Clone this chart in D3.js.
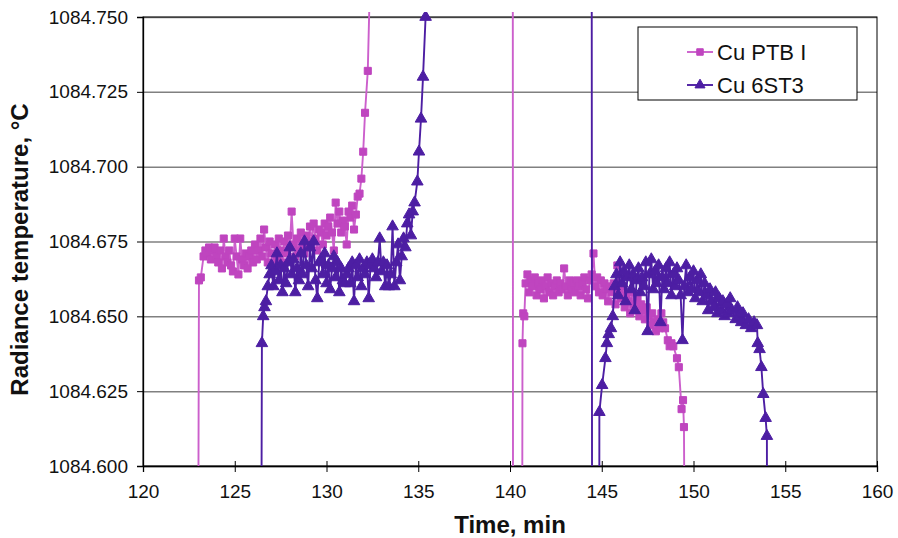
<!DOCTYPE html>
<html>
<head>
<meta charset="utf-8">
<script src="https://cdn.jsdelivr.net/npm/d3@7"></script>
<style>
  body { margin: 0; background: #fff; }
  text { font-family: Arial, "Liberation Sans", sans-serif; }
</style>
</head>
<body>
<script>
// series: [time (min), radiance temperature (°C)]
// values outside 1084.600..1084.750 are the off-scale transitions (clipped)
var ptbData = [
  [122.98,1084.500],[123.05,1084.662],[123.15,1084.663],[123.3,1084.670],[123.4,1084.672],[123.5,1084.671],
  [123.6,1084.673],[123.7,1084.669],[123.8,1084.672],[123.9,1084.673],[124.0,1084.670],[124.1,1084.668],
  [124.2,1084.672],[124.3,1084.666],[124.4,1084.676],[124.5,1084.670],[124.6,1084.668],[124.7,1084.672],
  [124.8,1084.667],[124.9,1084.665],[125.0,1084.676],[125.1,1084.670],[125.2,1084.664],[125.3,1084.676],
  [125.4,1084.669],[125.5,1084.667],[125.6,1084.671],[125.7,1084.666],[125.8,1084.670],[125.9,1084.672],
  [126.0,1084.668],[126.1,1084.674],[126.2,1084.669],[126.3,1084.672],[126.4,1084.676],[126.5,1084.670],
  [126.6,1084.679],[126.7,1084.673],[126.8,1084.668],[126.9,1084.675],[127.0,1084.671],[127.1,1084.666],
  [127.2,1084.674],[127.3,1084.669],[127.4,1084.676],[127.5,1084.672],[127.6,1084.668],[127.7,1084.675],
  [127.8,1084.671],[127.9,1084.677],[128.0,1084.673],[128.1,1084.685],[128.2,1084.674],[128.3,1084.670],
  [128.4,1084.676],[128.5,1084.672],[128.6,1084.678],[128.7,1084.674],[128.8,1084.671],[128.9,1084.677],
  [129.0,1084.673],[129.1,1084.680],[129.2,1084.675],[129.3,1084.681],[129.4,1084.676],[129.5,1084.672],
  [129.6,1084.679],[129.7,1084.678],[129.8,1084.674],[129.9,1084.681],[130.0,1084.677],[130.1,1084.680],
  [130.2,1084.683],[130.3,1084.678],[130.4,1084.672],[130.5,1084.688],[130.6,1084.681],[130.7,1084.685],
  [130.8,1084.678],[130.9,1084.682],[131.0,1084.680],[131.1,1084.674],[131.2,1084.685],[131.3,1084.683],
  [131.4,1084.687],[131.5,1084.679],[131.6,1084.684],[131.7,1084.690],[131.8,1084.691],[131.9,1084.696],
  [132.0,1084.705],[132.1,1084.718],[132.25,1084.732],[132.4,1084.770],
  [140.15,1084.800],[140.17,1084.500],[140.65,1084.500],[140.68,1084.641],[140.72,1084.651],[140.78,1084.650],
  [140.85,1084.661],[140.95,1084.664],[141.05,1084.658],[141.15,1084.662],[141.25,1084.660],[141.35,1084.663],
  [141.45,1084.657],[141.55,1084.661],[141.65,1084.659],[141.75,1084.662],[141.85,1084.656],[141.95,1084.660],
  [142.05,1084.663],[142.15,1084.658],[142.25,1084.661],[142.35,1084.657],[142.45,1084.660],[142.55,1084.662],
  [142.65,1084.658],[142.75,1084.661],[142.85,1084.659],[142.95,1084.666],[143.05,1084.660],[143.15,1084.657],
  [143.25,1084.662],[143.35,1084.659],[143.45,1084.661],[143.55,1084.658],[143.65,1084.662],[143.75,1084.660],
  [143.85,1084.657],[143.95,1084.661],[144.05,1084.663],[144.15,1084.659],[144.25,1084.656],[144.35,1084.662],
  [144.45,1084.664],[144.55,1084.671],[144.65,1084.660],[144.75,1084.663],[144.85,1084.658],[144.95,1084.662],
  [145.05,1084.657],[145.15,1084.661],[145.25,1084.659],[145.35,1084.655],[145.45,1084.660],[145.55,1084.658],
  [145.65,1084.661],[145.75,1084.654],[145.85,1084.667],[145.95,1084.659],[146.05,1084.656],[146.15,1084.660],
  [146.25,1084.653],[146.35,1084.657],[146.45,1084.655],[146.55,1084.651],[146.65,1084.658],[146.75,1084.654],
  [146.85,1084.652],[146.95,1084.656],[147.05,1084.650],[147.15,1084.654],[147.25,1084.652],[147.35,1084.649],
  [147.45,1084.653],[147.55,1084.650],[147.65,1084.647],[147.75,1084.651],[147.85,1084.648],[147.95,1084.645],
  [148.05,1084.649],[148.15,1084.646],[148.25,1084.651],[148.35,1084.648],[148.45,1084.646],[148.6,1084.642],
  [148.7,1084.640],[148.8,1084.641],[148.9,1084.640],[149.1,1084.636],[149.2,1084.633],[149.35,1084.619],
  [149.43,1084.622],[149.48,1084.613],[149.58,1084.500]
];

var st3Data = [
  [126.42,1084.500],[126.48,1084.641],[126.55,1084.650],[126.62,1084.653],[126.7,1084.655],[126.8,1084.660],
  [126.9,1084.664],[127.0,1084.667],[127.1,1084.660],[127.2,1084.665],[127.3,1084.671],[127.4,1084.662],
  [127.5,1084.667],[127.6,1084.658],[127.7,1084.666],[127.8,1084.661],[127.9,1084.668],[128.0,1084.673],
  [128.1,1084.664],[128.2,1084.669],[128.3,1084.658],[128.4,1084.666],[128.5,1084.662],[128.6,1084.671],
  [128.7,1084.664],[128.8,1084.675],[128.9,1084.667],[129.0,1084.660],[129.1,1084.673],[129.2,1084.666],
  [129.3,1084.675],[129.4,1084.662],[129.5,1084.656],[129.6,1084.668],[129.7,1084.669],[129.8,1084.664],
  [129.9,1084.671],[130.0,1084.661],[130.1,1084.667],[130.2,1084.659],[130.3,1084.666],[130.4,1084.670],
  [130.5,1084.663],[130.6,1084.668],[130.7,1084.658],[130.8,1084.666],[130.9,1084.662],[131.0,1084.661],
  [131.1,1084.664],[131.2,1084.666],[131.3,1084.661],[131.4,1084.668],[131.5,1084.655],[131.6,1084.667],
  [131.7,1084.663],[131.8,1084.669],[131.9,1084.660],[132.0,1084.666],[132.1,1084.664],[132.2,1084.668],
  [132.3,1084.656],[132.4,1084.667],[132.5,1084.669],[132.6,1084.666],[132.7,1084.663],[132.8,1084.668],
  [132.9,1084.676],[133.0,1084.665],[133.1,1084.668],[133.2,1084.660],[133.3,1084.667],[133.4,1084.660],
  [133.5,1084.664],[133.6,1084.680],[133.7,1084.660],[133.8,1084.668],[133.9,1084.674],[134.0,1084.662],
  [134.1,1084.670],[134.2,1084.676],[134.3,1084.673],[134.4,1084.681],[134.5,1084.684],[134.6,1084.677],
  [134.7,1084.685],[134.8,1084.688],[134.95,1084.695],[135.04,1084.705],[135.15,1084.716],[135.26,1084.730],
  [135.4,1084.750],[135.5,1084.780],
  [144.45,1084.800],[144.48,1084.500],[144.86,1084.500],[144.87,1084.618],[145.02,1084.627],[145.2,1084.636],
  [145.28,1084.641],[145.38,1084.644],[145.5,1084.646],[145.6,1084.650],[145.7,1084.660],[145.8,1084.664],
  [145.9,1084.657],[146.0,1084.668],[146.1,1084.661],[146.2,1084.665],[146.3,1084.655],[146.4,1084.663],
  [146.5,1084.667],[146.6,1084.659],[146.7,1084.664],[146.8,1084.652],[146.9,1084.662],[147.0,1084.666],
  [147.1,1084.658],[147.2,1084.663],[147.3,1084.660],[147.4,1084.668],[147.5,1084.645],[147.6,1084.664],
  [147.7,1084.669],[147.8,1084.659],[147.9,1084.665],[148.0,1084.661],[148.1,1084.667],[148.2,1084.648],
  [148.3,1084.663],[148.4,1084.659],[148.5,1084.666],[148.6,1084.661],[148.7,1084.668],[148.8,1084.657],
  [148.9,1084.664],[149.0,1084.660],[149.1,1084.666],[149.2,1084.662],[149.3,1084.657],[149.4,1084.642],
  [149.5,1084.660],[149.6,1084.667],[149.7,1084.658],[149.8,1084.663],[149.9,1084.659],[150.0,1084.665],
  [150.1,1084.656],[150.2,1084.662],[150.3,1084.658],[150.4,1084.664],[150.5,1084.655],[150.6,1084.661],
  [150.7,1084.657],[150.8,1084.652],[150.9,1084.659],[151.0,1084.655],[151.1,1084.653],[151.2,1084.658],
  [151.3,1084.651],[151.4,1084.656],[151.5,1084.652],[151.6,1084.655],[151.7,1084.650],[151.8,1084.654],
  [151.9,1084.651],[152.0,1084.656],[152.1,1084.652],[152.3,1084.649],[152.4,1084.653],[152.5,1084.650],
  [152.6,1084.648],[152.7,1084.651],[152.85,1084.647],[153.0,1084.649],[153.15,1084.646],[153.3,1084.648],
  [153.46,1084.647],[153.5,1084.641],[153.6,1084.639],[153.7,1084.633],[153.8,1084.624],[153.93,1084.616],
  [154.0,1084.610],[154.02,1084.500]
];

var seriesNames = ["Cu PTB I", "Cu 6ST3"];
var xTicks = [120, 125, 130, 135, 140, 145, 150, 155, 160];
var yTicks = [1084.600, 1084.625, 1084.650, 1084.675, 1084.700, 1084.725, 1084.750];

var margin = {top: 17, right: 21, bottom: 72, left: 143},
    width = 898 - margin.left - margin.right,
    height = 538 - margin.top - margin.bottom;

var colors = {ptb: "#bf45bf", ptbLine: "#cc5fcc", st3: "#4d1ea3"};

var x = d3.scaleLinear().domain([120, 160]).range([0, width]);
var y = d3.scaleLinear().domain([1084.600, 1084.750]).range([height, 0]);

var svg = d3.select("body").append("svg")
    .attr("width", 898)
    .attr("height", 538)
  .append("g")
    .attr("transform", "translate(" + margin.left + "," + margin.top + ")");

svg.append("defs").append("clipPath")
    .attr("id", "clip")
  .append("rect")
    .attr("x", 0)
    .attr("y", -5)
    .attr("width", width)
    .attr("height", height + 5);

// horizontal grid
svg.append("g")
    .attr("class", "grid")
    .call(d3.axisLeft(y).tickValues(yTicks).tickSize(-width).tickFormat(""))
    .call(function(g) { g.select(".domain").remove(); })
    .selectAll("line")
    .attr("stroke", "#808080")
    .attr("stroke-width", 1.5);

// frame
svg.append("rect")
    .attr("width", width)
    .attr("height", height)
    .attr("fill", "none")
    .attr("stroke", "#000")
    .attr("stroke-width", 1);

var yAxis = svg.append("g")
    .call(d3.axisLeft(y).tickValues(yTicks).tickSize(6).tickPadding(9).tickFormat(d3.format(".3f")));
yAxis.select(".domain").attr("stroke-width", 1.3);
yAxis.selectAll("text").attr("font-size", 19).attr("fill", "#111");

var xAxis = svg.append("g")
    .attr("transform", "translate(0," + height + ")")
    .call(d3.axisBottom(x).tickValues(xTicks).tickSize(6).tickPadding(13));
xAxis.select(".domain").attr("stroke-width", 1.3);
xAxis.selectAll(".tick line").attr("y1", -5);
xAxis.selectAll("text").attr("font-size", 19).attr("fill", "#111");

var line = d3.line()
    .x(function(d) { return x(d[0]); })
    .y(function(d) { return y(d[1]); });

var plot = svg.append("g").attr("clip-path", "url(#clip)");

function drawSeries(data, color, lineColor, symbol, size) {
  plot.append("path")
      .datum(data)
      .attr("fill", "none")
      .attr("stroke", lineColor)
      .attr("stroke-width", 1.9)
      .attr("d", line);
  plot.append("g").selectAll("path")
      .data(data)
    .enter().append("path")
      .attr("transform", function(d) { return "translate(" + x(d[0]) + "," + y(d[1]) + ")"; })
      .attr("d", d3.symbol().type(symbol).size(size))
      .attr("fill", color)
      .attr("stroke", color)
      .attr("stroke-width", 1);
}

drawSeries(ptbData, colors.ptb, colors.ptbLine, d3.symbolSquare, 50);
drawSeries(st3Data, colors.st3, colors.st3, d3.symbolTriangle, 58);

// legend
var legend = svg.append("g")
    .attr("transform", "translate(" + (638 - margin.left) + "," + (27 - margin.top) + ")");
legend.append("rect")
    .attr("width", 219)
    .attr("height", 73)
    .attr("fill", "#fff")
    .attr("stroke", "#000")
    .attr("stroke-width", 1);

var legendItems = [
  {name: seriesNames[0], color: colors.ptb, lineColor: colors.ptbLine, symbol: d3.symbolSquare, size: 42},
  {name: seriesNames[1], color: colors.st3, lineColor: colors.st3, symbol: d3.symbolTriangle, size: 44}
];

legendItems.forEach(function(item, i) {
  var g = legend.append("g").attr("transform", "translate(0," + (25 + i * 33) + ")");
  g.append("line")
      .attr("x1", 49).attr("x2", 75)
      .attr("stroke", item.lineColor)
      .attr("stroke-width", 1.9);
  g.append("path")
      .attr("transform", "translate(62,0)")
      .attr("d", d3.symbol().type(item.symbol).size(item.size))
      .attr("fill", item.color)
      .attr("stroke", item.color);
  g.append("text")
      .attr("x", 79)
      .attr("y", 8)
      .attr("font-size", 22)
      .attr("fill", "#111")
      .text(item.name);
});

// axis titles
svg.append("text")
    .attr("transform", "translate(" + (width / 2) + "," + (height + 67) + ")")
    .attr("text-anchor", "middle")
    .attr("font-size", 24)
    .attr("font-weight", "bold")
    .attr("fill", "#111")
    .text("Time, min");

svg.append("text")
    .attr("transform", "translate(" + (28 - margin.left) + "," + (height / 2 + 8) + ") rotate(-90)")
    .attr("text-anchor", "middle")
    .attr("font-size", 24)
    .attr("font-weight", "bold")
    .attr("fill", "#111")
    .text("Radiance temperature, °C");
</script>
</body>
</html>
